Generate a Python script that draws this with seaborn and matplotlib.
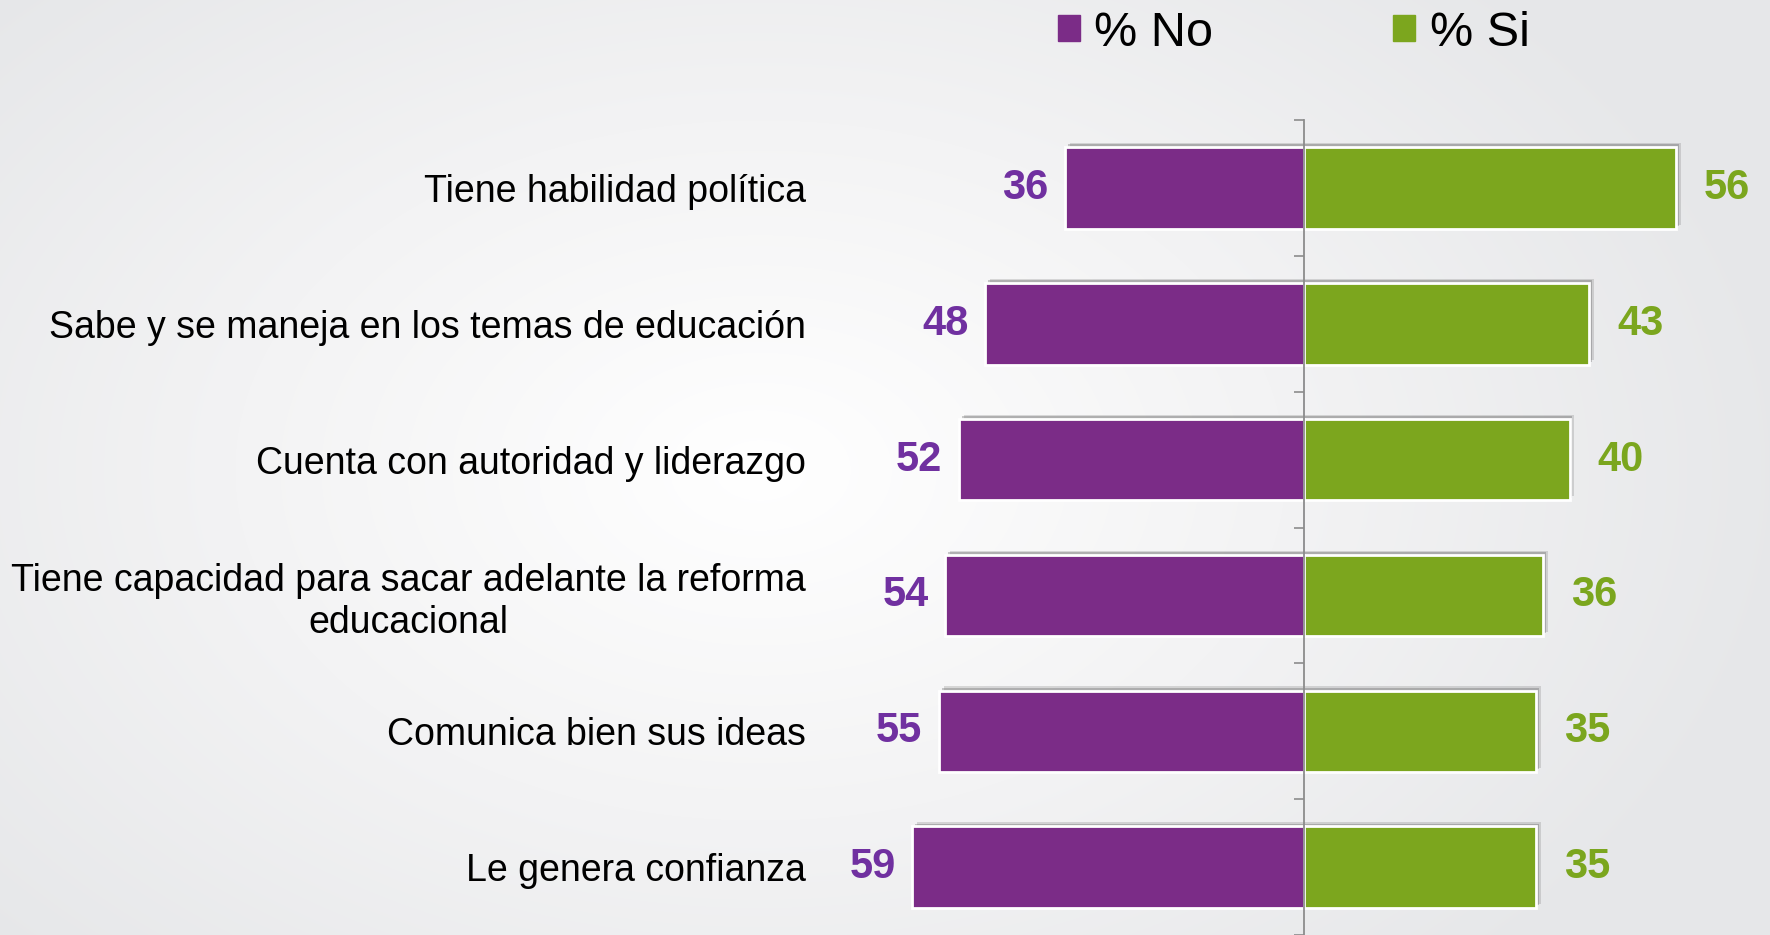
import numpy as np
import pandas as pd
import matplotlib.pyplot as plt
import matplotlib.patheffects as pe
from matplotlib.patches import Patch
from matplotlib.colors import LinearSegmentedColormap
import seaborn as sns


# --- Data ---
categories = [
    "Tiene habilidad política",
    "Sabe y se maneja en los temas de educación",
    "Cuenta con autoridad y liderazgo",
    "Tiene capacidad para sacar adelante la reforma\neducacional",
    "Comunica bien sus ideas",
    "Le genera confianza",
]
pct_no = [36, 48, 52, 54, 55, 59]
pct_si = [56, 43, 40, 36, 35, 35]
legend_labels = ["% No", "% Si"]

PURPLE = "#7B2C87"
GREEN = "#7CA61E"
PURPLE_TXT = "#7030A0"
GREEN_TXT = "#7BA61E"
AXIS_GREY = "#8c8c8c"

sns.set_theme(style="white")
plt.rcParams["font.family"] = ["Liberation Sans", "DejaVu Sans"]

W, H = 1770, 935
fig = plt.figure(figsize=(W / 100, H / 100), dpi=100)

# --- Background: soft radial grey gradient ---
bg = fig.add_axes([0, 0, 1, 1], zorder=-1)
yy, xx = np.mgrid[0:H, 0:W]
r = np.hypot((xx - 760) / 1050, (yy - 470) / 700)
bg_cmap = LinearSegmentedColormap.from_list("bg", ["#ffffff", "#f3f3f4", "#e6e7e9"])
bg.imshow(np.clip(r, 0, 1), cmap=bg_cmap, vmin=0, vmax=1, aspect="auto",
          extent=(0, W, H, 0))
bg.axis("off")

# --- Main axes ---
ax = fig.add_axes([820 / W, 0, 950 / W, 815 / H])
ax.patch.set_alpha(0)

df = pd.DataFrame({"cat": categories,
                   "no": [-v for v in pct_no],
                   "si": pct_si})

bar_kw = dict(orient="h", width=0.6, edgecolor="white", linewidth=2,
              saturation=1, errorbar=None, ax=ax)
sns.barplot(data=df, x="no", y="cat", color=PURPLE, **bar_kw)
sns.barplot(data=df, x="si", y="cat", color=GREEN, **bar_kw)

# soft drop shadow on bars
for cont in ax.containers:
    for bar in cont:
        bar.set_path_effects([
            pe.SimplePatchShadow(offset=(3.5, 3), shadow_rgbFace="#777777", alpha=0.25),
            pe.SimplePatchShadow(offset=(2, 2), shadow_rgbFace="#555555", alpha=0.3),
            pe.Normal(),
        ])

ax.bar_label(ax.containers[0], labels=[str(v) for v in pct_no], padding=12,
             color=PURPLE_TXT, fontsize=30, fontweight="bold")
ax.bar_label(ax.containers[1], labels=[str(v) for v in pct_si], padding=20,
             color=GREEN_TXT, fontsize=30, fontweight="bold")

ax.set_xlim(-72.9, 70.2)
ax.set_ylim(len(categories) - 0.5, -0.5)
ax.set_xlabel("")
ax.set_ylabel("")
ax.set_xticks([])

# centre line with small boundary ticks
for side in ["top", "bottom", "left"]:
    ax.spines[side].set_visible(False)
ax.spines["right"].set_position(("data", 0))
ax.spines["right"].set_color(AXIS_GREY)
ax.spines["right"].set_linewidth(1.3)
ax.set_yticks(np.arange(-0.5, len(categories), 1), minor=True)
ax.tick_params(axis="y", which="minor", left=False, right=True, direction="in",
               length=7, width=1.2, color=AXIS_GREY)
ax.tick_params(axis="y", which="major", left=False, right=False,
               labelsize=27, pad=4, labelcolor="black")
for lbl in ax.get_yticklabels():
    lbl.set_multialignment("center")

# --- Legend ---
handles = [Patch(color=PURPLE, label=legend_labels[0]),
           Patch(color=GREEN, label=legend_labels[1])]
fig.legend(handles=handles, loc="center left", bbox_to_anchor=(1058 / W, 1 - 33 / H),
           ncol=2, frameon=False, fontsize=35, handlelength=0.45, handleheight=0.45,
           handletextpad=0.3, columnspacing=3.7, borderaxespad=0, borderpad=0,
           labelcolor="black")

fig.savefig("out.png", dpi=100)
